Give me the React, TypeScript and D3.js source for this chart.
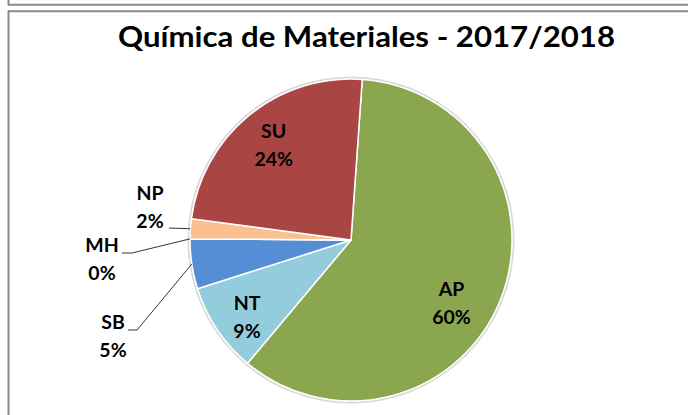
import * as d3 from 'd3';
import React from 'react';

// Química de Materiales - pie of course outcomes
const categories = ['AP', 'NT', 'SB', 'MH', 'NP', 'SU'];
const percents = [60, 9, 5, 0, 2, 24];
const sliceColors = ['#8AA64F', '#93CDDD', '#558ED5', '#8064A2', '#FAC090', '#A94644'];
const title = 'Química de Materiales - 2017/2018';

const W = 688;
const H = 415;
const params = {
  cx: 351,
  cy: 240,
  radius: 161,
  startDeg: 4, // first slice starts a bit right of 12 o'clock
  labelRadius: 0.74,
  lineGap: 28,
};

// Excel nudged the inside labels a little off the centroid
const nudge: Record<string, [number, number]> = {
  AP: [-10, 15],
  NT: [-5, 8],
  SU: [-2, -6],
};

// labels Excel pushed outside the pie, with leader lines
const outside: Record<string, { x: number; y: number; lineFrom: [number, number]; elbow?: number }> = {
  NP: { x: 150, y: 200, lineFrom: [169, 228] },
  MH: { x: 102, y: 252, lineFrom: [122, 253], elbow: 10 },
  SB: { x: 113, y: 329, lineFrom: [128, 330], elbow: 9 },
};

const font = 'Lato, "Open Sans", sans-serif';
const labelSize = 19.5;

export default function App() {
  const data = categories.map((c, i) => ({ key: c, value: percents[i], color: sliceColors[i] }));
  const a0 = (params.startDeg * Math.PI) / 180;
  const pie = d3
    .pie<any>()
    .sort(null)
    .value((d) => d.value)
    .startAngle(a0)
    .endAngle(a0 + 2 * Math.PI);
  const arcs = pie(data);
  const arc = d3.arc<any>().innerRadius(0).outerRadius(params.radius);
  const labelArc = d3
    .arc<any>()
    .innerRadius(params.radius * params.labelRadius)
    .outerRadius(params.radius * params.labelRadius);

  return (
    <svg width={W} height={H} style={{ position: 'absolute', left: 0, top: 0, background: '#fff' }}>
      {/* bottom edge of the chart above, and this chart's frame */}
      <line x1={8.5} y1={0} x2={8.5} y2={5} stroke="#8a8a8a" strokeWidth={2} />
      <line x1={8} y1={4.8} x2={W} y2={4.8} stroke="#8a8a8a" strokeWidth={2} />
      <line x1={8} y1={11.2} x2={W} y2={11.2} stroke="#8a8a8a" strokeWidth={2} />
      <line x1={8.5} y1={10.5} x2={8.5} y2={H} stroke="#8a8a8a" strokeWidth={2} />

      <text x={366.5} y={47} textAnchor="middle" fontFamily={font} fontWeight="bold" fontSize={28.5} fill="#000"
        textLength={497} lengthAdjust="spacingAndGlyphs">
        {title}
      </text>

      <g transform={`translate(${params.cx},${params.cy})`}>
        <circle r={params.radius + 1.5} fill="none" stroke="#d9d9d9" strokeWidth={2} />
        {arcs.map((d) => (
          <path key={d.data.key} d={arc(d) || ''} fill={d.data.color} stroke="#fff" strokeWidth={1.5} strokeLinejoin="round" />
        ))}
        {arcs
          .filter((d) => !outside[d.data.key])
          .map((d) => {
            const [cx, cy] = labelArc.centroid(d);
            const [nx, ny] = nudge[d.data.key] || [0, 0];
            const x = cx + nx;
            const y = cy + ny;
            return (
              <text key={d.data.key} x={x} y={y} textAnchor="middle" fontFamily={font} fontWeight="bold" fontSize={labelSize} fill="#000">
                <tspan x={x} dy={-4}>{d.data.key}</tspan>
                <tspan x={x} dy={params.lineGap}>{d3.format('.0f')(d.data.value)}%</tspan>
              </text>
            );
          })}
      </g>

      {arcs
        .filter((d) => outside[d.data.key])
        .map((d) => {
          const o = outside[d.data.key];
          const mid = (d.startAngle + d.endAngle) / 2;
          const ex = params.cx + params.radius * Math.sin(mid);
          const ey = params.cy - params.radius * Math.cos(mid);
          const pts: [number, number][] = [o.lineFrom];
          if (o.elbow) pts.push([o.lineFrom[0] + o.elbow, o.lineFrom[1]]);
          pts.push([ex, ey]);
          return (
            <g key={d.data.key}>
              <path d={d3.line()(pts) || ''} fill="none" stroke="#000" strokeWidth={0.8} />
              <text x={o.x} y={o.y} textAnchor="middle" fontFamily={font} fontWeight="bold" fontSize={labelSize} fill="#000">
                <tspan x={o.x}>{d.data.key}</tspan>
                <tspan x={o.x} dy={params.lineGap}>{d3.format('.0f')(d.data.value)}%</tspan>
              </text>
            </g>
          );
        })}
    </svg>
  );
}
